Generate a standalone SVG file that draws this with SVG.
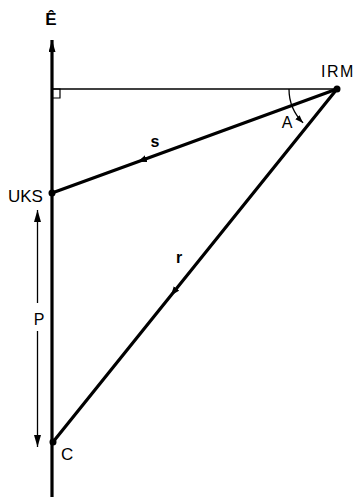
<svg xmlns="http://www.w3.org/2000/svg" width="356" height="497" viewBox="0 0 356 497">
<style>
.lbl{font-family:"Liberation Sans",Arial,sans-serif;font-size:16px;fill:#000}
.bold{font-weight:bold}
.thick{stroke:#000;stroke-width:3.2;fill:none}
.thin{stroke:#000;stroke-width:1.3;fill:none}
.dot{fill:#000}
</style>
<defs>
<marker id="head" markerUnits="userSpaceOnUse" markerWidth="14" markerHeight="10" refX="12" refY="3.5" orient="auto">
<path d="M0,0 L12,3.5 L0,7 Z" fill="#000"/>
</marker>
<marker id="mid" markerUnits="userSpaceOnUse" markerWidth="11" markerHeight="9" refX="4.5" refY="3.5" orient="auto">
<path d="M0,0 L9,3.5 L0,7 Z" fill="#000"/>
</marker>
<marker id="arc" markerUnits="userSpaceOnUse" markerWidth="10" markerHeight="8" refX="8" refY="3" orient="auto">
<path d="M0,0 L8,3 L0,6 Z" fill="#000"/>
</marker>
</defs>
<rect width="356" height="497" fill="#fff"/>
<g id="axis">
<line x1="52" y1="497" x2="52" y2="40" class="thick" marker-end="url(#head)"/>
<text x="51" y="25" class="lbl bold" text-anchor="middle" style="font-size:17px">Ê</text>
</g>
<g id="connectors">
<line x1="52" y1="89" x2="337" y2="89" stroke="#000" stroke-width="1.4"/>
<polyline points="53,89 60,89 60,98 53,98" stroke="#000" stroke-width="1.2" fill="none"/>
<path d="M337,89 L142,160.2 L52,193" class="thick" marker-mid="url(#mid)"/>
<path d="M337,89 L173.7,292 L53,442" class="thick" marker-mid="url(#mid)"/>
<path d="M289,89 A48,48 0 0 0 303.1,122.9" class="thin" marker-end="url(#arc)"/>
<line x1="37.5" y1="303" x2="37.5" y2="210" class="thin" marker-end="url(#head)"/>
<line x1="37.5" y1="331" x2="37.5" y2="447" class="thin" marker-end="url(#head)"/>
</g>
<g id="IRM">
<circle cx="337" cy="89" r="3.5" class="dot"/>
<text x="321" y="77" class="lbl" style="font-size:16px;letter-spacing:1.5px">IRM</text>
</g>
<g id="UKS">
<circle cx="52" cy="193" r="3.5" class="dot"/>
<text x="8" y="202" class="lbl" style="font-size:17px">UKS</text>
</g>
<g id="C">
<circle cx="53" cy="442" r="3.5" class="dot"/>
<text x="61" y="460" class="lbl" style="font-size:17px">C</text>
</g>
<g id="labels">
<text x="155" y="147" class="lbl bold" text-anchor="middle">s</text>
<text x="179" y="263" class="lbl bold" text-anchor="middle">r</text>
<text x="287" y="128" class="lbl" text-anchor="middle">A</text>
<text x="39" y="325" class="lbl" text-anchor="middle">P</text>
</g>
</svg>
